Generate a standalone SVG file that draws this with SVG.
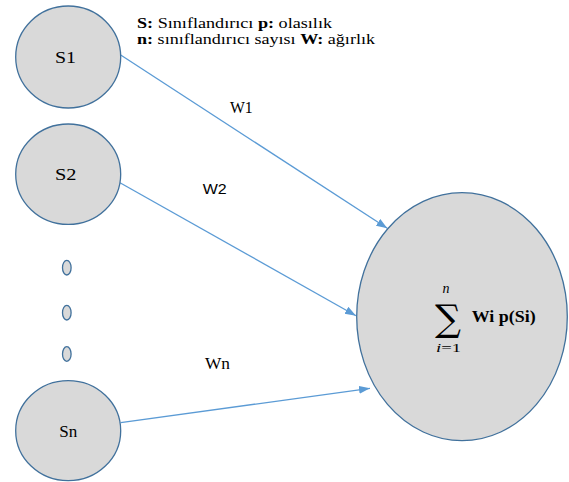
<svg xmlns="http://www.w3.org/2000/svg" width="569" height="482" viewBox="0 0 569 482">
<style>
.node{fill:#d9d9d9;stroke:#41719c;stroke-width:1.3}
.conn{stroke:#5b9bd5;stroke-width:1.3;fill:none}
</style>
<defs>
<marker id="ah" markerUnits="userSpaceOnUse" markerWidth="12" markerHeight="10" refX="11" refY="4" orient="auto">
<path d="M0,0 L11,4 L0,8 Z" fill="#5b9bd5"/>
</marker>
</defs>
<rect width="569" height="482" fill="#fff"/>
<g id="connectors">
<line class="conn" x1="120.7" y1="55" x2="387.3" y2="228.3" marker-end="url(#ah)"/>
<line class="conn" x1="120" y1="182.7" x2="356" y2="315.7" marker-end="url(#ah)"/>
<line class="conn" x1="120.7" y1="422.7" x2="370" y2="388.3" marker-end="url(#ah)"/>
</g>
<g font-family="Liberation Serif, Times New Roman, serif" font-size="16" fill="#000">
<g id="node-s1">
<ellipse class="node" cx="68.2" cy="57" rx="52.5" ry="51"/>
<text x="55" y="63.3" textLength="21" lengthAdjust="spacingAndGlyphs">S1</text>
</g>
<g id="node-s2">
<ellipse class="node" cx="68.2" cy="174.2" rx="52.5" ry="50.2"/>
<text x="55" y="180" textLength="21.5" lengthAdjust="spacingAndGlyphs">S2</text>
</g>
<g id="node-dots">
<ellipse class="node" cx="66.8" cy="267.7" rx="4.3" ry="7.3"/>
<ellipse class="node" cx="66.8" cy="312.7" rx="4.3" ry="7.3"/>
<ellipse class="node" cx="66.8" cy="354" rx="4.3" ry="7.3"/>
</g>
<g id="node-sn">
<ellipse class="node" cx="68.2" cy="430.7" rx="52.5" ry="50"/>
<text x="59.3" y="436.7" textLength="18" lengthAdjust="spacingAndGlyphs">Sn</text>
</g>
<g id="node-sum">
<ellipse class="node" cx="462" cy="316.7" rx="105.3" ry="124"/>
<text x="435" y="331" font-family="DejaVu Serif, serif" font-size="37" textLength="26" lengthAdjust="spacingAndGlyphs">∑</text>
<text x="446" y="293.3" text-anchor="middle" font-style="italic" font-size="14">n</text>
<text x="436" y="352" font-size="13" textLength="25" lengthAdjust="spacingAndGlyphs"><tspan font-style="italic">i</tspan>=1</text>
<text x="471.7" y="321.7" font-weight="bold" font-size="17.5" textLength="64" lengthAdjust="spacingAndGlyphs">Wi p(Si)</text>
</g>
<g id="labels">
<text x="230" y="113" textLength="22.7" lengthAdjust="spacingAndGlyphs">W1</text>
<text x="202.7" y="194" font-family="Liberation Sans, Arial, sans-serif" font-size="14" textLength="24" lengthAdjust="spacingAndGlyphs">W2</text>
<text x="205" y="369.3" textLength="25" lengthAdjust="spacingAndGlyphs">Wn</text>
</g>
<g id="legend" font-size="15.5">
<text x="137" y="27.7" textLength="195" lengthAdjust="spacingAndGlyphs"><tspan font-weight="bold">S:</tspan> Sınıflandırıcı <tspan font-weight="bold">p:</tspan> olasılık</text>
<text x="137" y="44" textLength="238" lengthAdjust="spacingAndGlyphs"><tspan font-weight="bold">n:</tspan> sınıflandırıcı sayısı <tspan font-weight="bold">W:</tspan> ağırlık</text>
</g>
</g>
</svg>
